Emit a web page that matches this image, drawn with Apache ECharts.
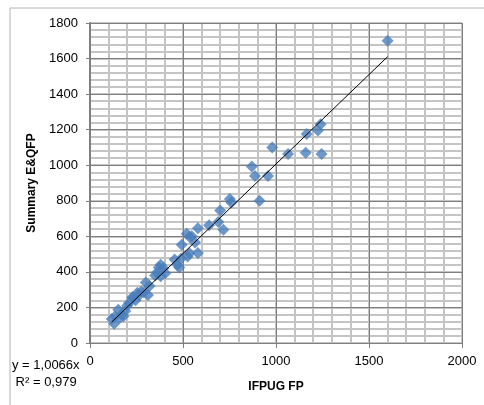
<!DOCTYPE html>
<html>
<head>
<meta charset="utf-8">
<script src="https://cdn.jsdelivr.net/npm/echarts@6/dist/echarts.min.js"></script>
<style>
  html, body { margin: 0; padding: 0; background: #fff; }
  #chart { width: 484px; height: 405px; }
</style>
</head>
<body>
<div id="chart"></div>
<script>
  // IFPUG FP (x) vs Summary E&QFP (y)
  const ifpug = [
    1600, 1240, 1225, 1165, 980, 1065, 1160, 1245, 870, 887,
    957, 912, 752, 760, 700, 690, 640, 580, 717, 520,
    535, 547, 493, 565, 580, 535, 525, 490, 455, 470,
    480, 380, 370, 395, 360, 405, 380, 350, 300, 320,
    290, 312, 255, 228, 245, 210, 200, 190, 170, 152,
    180, 135, 117, 130, 160, 265, 275, 230
  ];
  const eqfp = [
    1700, 1230, 1195, 1175, 1100, 1063, 1070, 1063, 993, 940,
    940, 800, 810, 790, 746, 680, 663, 645, 637, 615,
    598, 600, 553, 565, 506, 505, 487, 475, 470, 440,
    425, 440, 425, 420, 395, 392, 375, 380, 340, 320,
    285, 270, 282, 258, 240, 225, 210, 180, 162, 187,
    150, 150, 135, 108, 140, 270, 290, 255
  ];
  const slope = 1.0066;
  const xTicks = [0, 500, 1000, 1500, 2000];
  const yTicks = [0, 200, 400, 600, 800, 1000, 1200, 1400, 1600, 1800];

  const points = ifpug.map((x, i) => [x, eqfp[i]]);
  const xMin = Math.min(...ifpug);
  const xMax = Math.max(...ifpug);
  const trend = [[xMin, slope * xMin], [xMax, slope * xMax]];

  const chart = echarts.init(document.getElementById("chart"));
  const MAJOR = "#7f7f7f";
  const MINOR = "#c4c4c4";
  const FONT = "'Liberation Sans', 'DejaVu Sans', sans-serif";

  // hidden axes that only draw the minor gridlines (x every 100, y every 40)
  const minorAxis = (min, max, step) => ({
    type: "value",
    min: min,
    max: max,
    interval: step,
    z: 0,
    axisLine: { show: false },
    axisTick: { show: false },
    axisLabel: { show: false },
    splitLine: { show: true, lineStyle: { color: MINOR, width: 2 } }
  });

  const option = {
    animation: false,
    textStyle: { fontFamily: FONT },
    grid: { left: 90, top: 23, right: 22, bottom: 62 },
    graphic: [
      {
        type: "rect",
        shape: { x: 10, y: 8, width: 500, height: 420 },
        style: { fill: "none", stroke: "#b4b4b4", lineWidth: 1 },
        silent: true
      },
      {
        type: "text",
        left: 12,
        top: 357,
        style: {
          text: "y = 1,0066x\n R² = 0,979",
          font: "13px " + FONT,
          fill: "#000",
          lineHeight: 17
        }
      }
    ],
    xAxis: [
      {
        type: "value",
        min: xTicks[0],
        max: xTicks[xTicks.length - 1],
        interval: 500,
        z: 1,
        name: "IFPUG FP",
        nameLocation: "middle",
        nameGap: 38,
        nameTextStyle: { fontWeight: "bold", fontSize: 12, color: "#000" },
        axisLine: { lineStyle: { color: MAJOR, width: 1 } },
        axisTick: { show: true, length: 5, lineStyle: { color: MAJOR } },
        axisLabel: { color: "#000", fontSize: 13, margin: 12, formatter: v => String(v) },
        splitLine: { show: true, lineStyle: { color: MAJOR, width: 1 } }
      },
      Object.assign(minorAxis(xTicks[0], xTicks[xTicks.length - 1], 100), { position: "top" })
    ],
    yAxis: [
      {
        type: "value",
        min: yTicks[0],
        max: yTicks[yTicks.length - 1],
        interval: 200,
        z: 1,
        name: "Summary E&QFP",
        nameLocation: "middle",
        nameGap: 44,
        nameTextStyle: { fontWeight: "bold", fontSize: 12, color: "#000" },
        axisLine: { show: true, lineStyle: { color: MAJOR, width: 2 } },
        axisTick: { show: true, length: 4, lineStyle: { color: MAJOR } },
        axisLabel: { color: "#000", fontSize: 13, margin: 12, formatter: v => String(v) },
        splitLine: { show: true, lineStyle: { color: MAJOR, width: 1 } }
      },
      Object.assign(minorAxis(yTicks[0], yTicks[yTicks.length - 1], 40), { position: "right" })
    ],
    series: [
      {
        name: "data",
        type: "scatter",
        symbol: "diamond",
        symbolSize: 12,
        itemStyle: { color: "#4a7ebb" },
        data: points,
        z: 3
      },
      {
        name: "trend",
        type: "line",
        data: trend,
        symbol: "none",
        lineStyle: { color: "#000", width: 1 },
        z: 4
      }
    ]
  };

  chart.setOption(option);
</script>
</body>
</html>
